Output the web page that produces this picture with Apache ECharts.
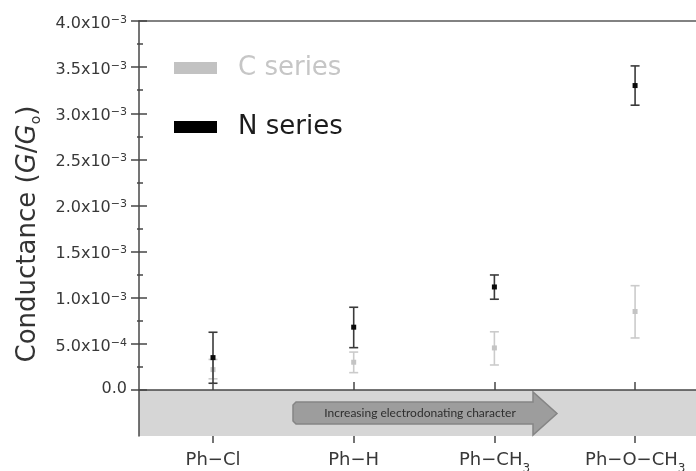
<!DOCTYPE html>
<html>
<head>
<meta charset="utf-8">
<script src="https://cdn.jsdelivr.net/npm/echarts@6/dist/echarts.min.js"></script>
<style>
html, body { margin: 0; padding: 0; background: #fff; }
#chart { width: 696px; height: 471px; }
</style>
</head>
<body>
<div id="chart"></div>
<script>
// data (conductance in units of G0)
const categories = ['Ph−Cl', 'Ph−H', 'Ph−CH3', 'Ph−O−CH3'];
const positions = [1, 2, 3, 4];
const cMean = [2.2e-4, 3.0e-4, 4.55e-4, 8.5e-4];
const cLow = [1.2e-4, 1.87e-4, 2.7e-4, 5.63e-4];
const cHigh = [3.3e-4, 4.1e-4, 6.3e-4, 1.13e-3];
const nMean = [3.5e-4, 6.8e-4, 1.116e-3, 3.30e-3];
const nLow = [0.72e-4, 4.58e-4, 9.83e-4, 3.087e-3];
const nHigh = [6.25e-4, 8.96e-4, 1.246e-3, 3.513e-3];
const shadeBand = [-5e-4, 0];

const FONT = 'DejaVu Sans';

function sciLabel(v) {
    if (Math.abs(v) < 1e-12) return '{m|0.0}';
    var e = Math.floor(Math.log10(v) + 1e-9);
    var m = (v / Math.pow(10, e)).toFixed(1);
    return '{sp| }{m|' + m + 'x10}{s|−' + (-e) + '}';
}
function catLabel(v) {
    var name = categories[Math.round(v) - 1];
    if (!name) return '';
    if (name.endsWith('3')) return '{sp| }{m|' + name.slice(0, -1) + '}{sub|3}';
    return '{m|' + name + '}';
}
function errorBar(lineColor, markColor) {
    return function (params, api) {
        var x = api.value(0);
        var pm = api.coord([x, api.value(1)]);
        var pl = api.coord([x, api.value(2)]);
        var ph = api.coord([x, api.value(3)]);
        var hw = 4.5;
        var ls = { stroke: lineColor, lineWidth: 1.6 };
        return {
            type: 'group',
            children: [
                { type: 'line', shape: { x1: pl[0], y1: pl[1], x2: ph[0], y2: ph[1] }, style: ls },
                { type: 'line', shape: { x1: ph[0] - hw, y1: ph[1], x2: ph[0] + hw, y2: ph[1] }, style: ls },
                { type: 'line', shape: { x1: pl[0] - hw, y1: pl[1], x2: pl[0] + hw, y2: pl[1] }, style: ls },
                { type: 'rect', shape: { x: pm[0] - 2.5, y: pm[1] - 2.5, width: 5, height: 5 }, style: { fill: markColor } }
            ]
        };
    };
}

var chart = echarts.init(document.getElementById('chart'));
var axisColor = '#474747';
var textColor = '#383838';
var ticks = [1, 2, 3, 4];

chart.setOption({
    animation: false,
    grid: [
        { left: 139, right: 0, top: 21, bottom: 35, outerBoundsMode: 'none' },
        { left: 139, right: 0, top: 21, bottom: 81, outerBoundsMode: 'none' }
    ],
    legend: {
        left: 174, top: 53, orient: 'vertical', padding: 0,
        itemWidth: 43, itemHeight: 12, itemGap: 29, selectedMode: false,
        textStyle: { fontFamily: FONT, fontSize: 26, lineHeight: 30, padding: [0, 0, 0, 16] },
        data: [
            { name: 'C series', icon: 'rect', itemStyle: { color: '#c2c2c2' }, textStyle: { color: '#c6c6c6' } },
            { name: 'N series', icon: 'rect', itemStyle: { color: '#000' }, textStyle: { color: '#1c1c1c' } }
        ]
    },
    xAxis: [
        {
            type: 'value', gridIndex: 0, position: 'bottom', min: 0.474, max: 4.433, z: 10,
            axisLine: { lineStyle: { color: axisColor, width: 1.5 } },
            axisTick: { customValues: ticks, inside: true, length: 8, lineStyle: { color: axisColor, width: 1.5 } },
            axisLabel: {
                customValues: ticks, margin: 15, formatter: catLabel,
                rich: {
                    m: { fontFamily: FONT, fontSize: 18, lineHeight: 18, verticalAlign: 'top', color: textColor },
                    sub: { fontFamily: FONT, fontSize: 12, lineHeight: 12, verticalAlign: 'bottom', color: textColor },
                    sp: { fontSize: 1, lineHeight: 24 }
                }
            },
            splitLine: { show: false }
        },
        {
            type: 'value', gridIndex: 0, position: 'bottom', min: 0.474, max: 4.433, z: 10,
            axisLine: { show: false },
            axisTick: { customValues: ticks, inside: false, length: 7, lineStyle: { color: axisColor, width: 1.5 } },
            axisLabel: { show: false },
            splitLine: { show: false }
        },
        {
            type: 'value', gridIndex: 0, position: 'top', min: 0.474, max: 4.433,
            axisLine: { lineStyle: { color: '#5a5a5a', width: 1.5 } },
            axisTick: { show: false }, axisLabel: { show: false }, splitLine: { show: false }
        },
        { type: 'value', gridIndex: 1, show: false, min: 0, max: 1 }
    ],
    yAxis: [
        {
            type: 'value', gridIndex: 0, position: 'left', min: -5e-4, max: 4e-3, z: 10,
            axisLine: { show: true, lineStyle: { color: axisColor, width: 1.5 } },
            axisTick: { show: false }, axisLabel: { show: false }, splitLine: { show: false },
            name: '{a|Conductance (}{i|G}{a|/}{i|G}{s|o}{a|)}',
            nameLocation: 'middle', nameRotate: 90, nameGap: 96,
            nameTextStyle: {
                padding: [0, 11, 0, 0],
                rich: {
                    a: { fontFamily: FONT, fontSize: 26, lineHeight: 30, color: '#333' },
                    i: { fontFamily: FONT, fontSize: 26, lineHeight: 30, fontStyle: 'italic', color: '#333' },
                    s: { fontFamily: FONT, fontSize: 14, lineHeight: 19, verticalAlign: 'bottom', color: '#333' }
                }
            }
        },
        {
            type: 'value', gridIndex: 1, position: 'left', min: 0, max: 4e-3, interval: 5e-4, z: 10,
            axisLine: { show: false },
            axisTick: { show: true, inside: false, length: 8, lineStyle: { color: axisColor, width: 1.5 } },
            minorTick: { show: true, splitNumber: 2, length: 2, lineStyle: { color: axisColor, width: 1.5 } },
            axisLabel: {
                margin: 12, formatter: sciLabel, padding: [4, 0, 0, 0],
                rich: {
                    m: { fontFamily: FONT, fontSize: 16, lineHeight: 10, verticalAlign: 'bottom', color: textColor },
                    s: { fontFamily: FONT, fontSize: 11, lineHeight: 8, verticalAlign: 'top', color: textColor },
                    sp: { fontSize: 1, lineHeight: 17 }
                }
            },
            splitLine: { show: false }
        },
        {
            type: 'value', gridIndex: 1, position: 'left', min: 0, max: 4e-3, interval: 5e-4, z: 10,
            axisLine: { show: false },
            axisTick: { show: true, inside: true, length: 8, lineStyle: { color: axisColor, width: 1.5 } },
            minorTick: { show: true, splitNumber: 2, length: 4, lineStyle: { color: axisColor, width: 1.5 } },
            axisLabel: { show: false },
            splitLine: { show: false }
        }
    ],
    graphic: [
        {
            type: 'polygon', z: 5,
            shape: { points: [[296, 402], [533, 402], [533, 392], [557, 413.5], [533, 435], [533, 424], [296, 424], [293, 421], [293, 405]] },
            style: { fill: '#9d9d9d', stroke: '#858585', lineWidth: 1.5 }
        },
        {
            type: 'text', z: 6, x: 420, y: 413,
            style: {
                text: 'Increasing electrodonating character', fontFamily: 'Lato', fontSize: 12,
                fill: '#2e2e2e', align: 'center', verticalAlign: 'middle'
            }
        }
    ],
    series: [
        {
            name: 'C series', type: 'custom', xAxisIndex: 0, yAxisIndex: 0,
            itemStyle: { color: '#c2c2c2' },
            renderItem: errorBar('#cbcbcb', '#c4c4c4'),
            data: positions.map((x, i) => [x, cMean[i], cLow[i], cHigh[i]]),
            markArea: {
                silent: true,
                itemStyle: { color: '#d6d6d6', opacity: 1 },
                data: [[{ yAxis: shadeBand[0] }, { yAxis: shadeBand[1] }]]
            },
            z: 2
        },
        {
            name: 'N series', type: 'custom', xAxisIndex: 0, yAxisIndex: 0,
            itemStyle: { color: '#000' },
            renderItem: errorBar('#3a3a3a', '#0a0a0a'),
            data: positions.map((x, i) => [x, nMean[i], nLow[i], nHigh[i]]),
            z: 3
        }
    ]
});
</script>
</body>
</html>
